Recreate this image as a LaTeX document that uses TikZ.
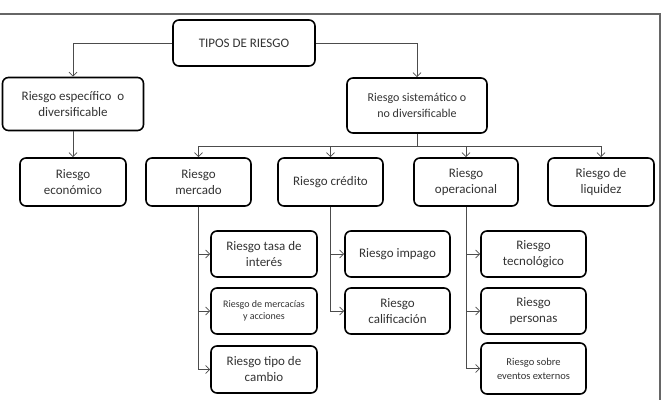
\documentclass[tikz,border=0pt]{standalone}
\usepackage{fontspec}
\setmainfont{Carlito}
\usetikzlibrary{arrows.meta}

\tikzset{
  riskbox/.style={draw,line width=1.6pt,rounded corners=6pt,align=center,
    text=black!80,inner sep=2pt,font=\fontsize{13}{16}\selectfont},
  smallbox/.style={riskbox,font=\fontsize{10}{12}\selectfont},
  conn/.style={draw=black!70,line width=.8pt},
  arr/.style={conn,-{Straight Barb[length=4pt,width=8pt]}}
}

\begin{document}
\begin{tikzpicture}[x=1pt,y=-1pt]
\path[use as bounding box] (0,0) rectangle (662,400);
\draw[black!60,line width=1.2pt] (0,14)--(660,14)--(660,400);

% top levels
\node[riskbox,minimum width=142,minimum height=46] (tipos) at (244,43) {TIPOS DE RIESGO};
\node[riskbox,minimum width=141,minimum height=53] (esp) at (73,104) {Riesgo específico\ \ o\\diversificable};
\node[riskbox,minimum width=140,minimum height=55,font=\fontsize{12}{16}\selectfont] (sis) at (417,105.5) {Riesgo sistemático o\\no diversificable};

\node[riskbox,minimum width=106,minimum height=48] (eco) at (73,182) {Riesgo\\económico};
\node[riskbox,minimum width=105,minimum height=48] (mer) at (198.5,182) {Riesgo\\mercado};
\node[riskbox,minimum width=105,minimum height=48] (cre) at (330.5,182) {Riesgo crédito};
\node[riskbox,minimum width=104,minimum height=48] (ope) at (466,182) {Riesgo\\operacional};
\node[riskbox,minimum width=106,minimum height=48] (liq) at (601,182) {Riesgo de\\liquidez};

% sub levels
\node[riskbox,minimum width=106,minimum height=46] (tasa) at (264,254) {Riesgo tasa de\\interés};
\node[smallbox,minimum width=106,minimum height=46] (merc) at (264,311) {Riesgo de mercacías\\y acciones};
\node[riskbox,minimum width=106,minimum height=47] (tipo) at (264,369.5) {Riesgo tipo de\\cambio};
\node[riskbox,minimum width=105,minimum height=46] (imp) at (397.5,254) {Riesgo impago};
\node[riskbox,minimum width=105,minimum height=46] (cal) at (397.5,311) {Riesgo\\calificación};
\node[riskbox,minimum width=105,minimum height=46] (tec) at (533.5,254) {Riesgo\\tecnológico};
\node[riskbox,minimum width=105,minimum height=46] (per) at (533.5,311) {Riesgo\\personas};
\node[smallbox,minimum width=105,minimum height=51,font=\fontsize{10.5}{14}\selectfont] (eve) at (533.5,368.5) {Riesgo sobre\\eventos externos};

\coordinate (bus) at (417,146);

\draw[arr] (tipos.west) -| (esp.north);
\draw[arr] (tipos.east) -| (sis.north);
\draw[arr] (esp.south) -- (eco.north);
\draw[conn] (sis.south) -- (bus);
\draw[arr] (bus) -| (mer.north);
\draw[arr] (bus) -| (cre.north);
\draw[arr] (bus) -| (ope.north);
\draw[arr] (bus) -| (liq.north);

\draw[arr] (mer.south) |- (tasa.west);
\draw[arr] (mer.south) |- (merc.west);
\draw[arr] (mer.south) |- (tipo.west);
\draw[arr] (cre.south) |- (imp.west);
\draw[arr] (cre.south) |- (cal.west);
\draw[arr] (ope.south) |- (tec.west);
\draw[arr] (ope.south) |- (per.west);
\draw[arr] (ope.south) |- (eve.west);
\end{tikzpicture}
\end{document}
